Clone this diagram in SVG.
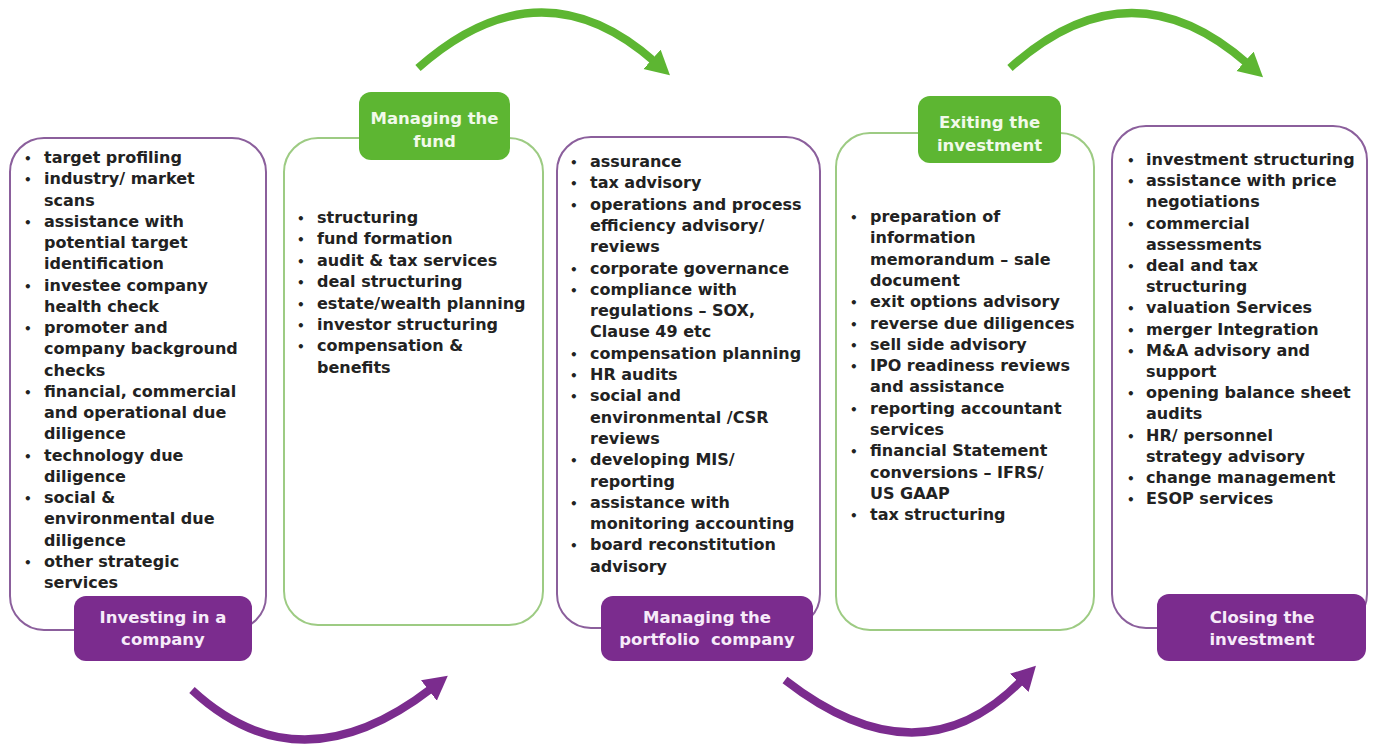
<svg xmlns="http://www.w3.org/2000/svg" width="1376" height="748" viewBox="0 0 1376 748">
<style>
.t{font-family:"DejaVu Sans",sans-serif;font-weight:bold;font-size:16px;fill:#222}
.b{font-family:"DejaVu Sans",sans-serif;font-weight:bold;font-size:12px;fill:#222}
.lp{font-family:"DejaVu Sans",sans-serif;font-weight:bold;font-size:16.5px;fill:#f6ebf9;text-anchor:middle}
.lg{font-family:"DejaVu Sans",sans-serif;font-weight:bold;font-size:16.5px;fill:#f1f9ea;text-anchor:middle}
.bp{fill:#fff;stroke:#8b5f9c;stroke-width:2}
.bg{fill:#fff;stroke:#9dcb83;stroke-width:2}
.rp{fill:#7b2c8e}
.rg{fill:#5db632}
.ag{fill:none;stroke:#5db632;stroke-width:8}
.ap{fill:none;stroke:#7b2c8e;stroke-width:8}
</style>
<defs>
<marker id="mg" markerUnits="userSpaceOnUse" markerWidth="28" markerHeight="28" refX="4" refY="13" orient="auto"><path d="M0,0 L24,13 L0,26 z" fill="#5db632"/></marker>
<marker id="mp" markerUnits="userSpaceOnUse" markerWidth="28" markerHeight="28" refX="4" refY="13" orient="auto"><path d="M0,0 L24,13 L0,26 z" fill="#7b2c8e"/></marker>
</defs>
<rect width="1376" height="748" fill="#fff"/>
<g id="connectors">
<path class="ag" d="M418,68 Q540,-40 655,62" marker-end="url(#mg)"/>
<path class="ag" d="M1010,68 Q1130,-40 1248,64" marker-end="url(#mg)"/>
<path class="ap" d="M192,690 Q300,790 432,688" marker-end="url(#mp)"/>
<path class="ap" d="M785,680 Q920,785 1022,680" marker-end="url(#mp)"/>
</g>
<g id="investing">
<rect class="bp" x="10" y="138" width="256" height="492" rx="34"/>
<g>
<text class="b" x="24" y="163">•</text><text class="t" x="44" y="163">target profiling</text>
<text class="b" x="24" y="184.25">•</text><text class="t" x="44" y="184.25">industry/ market</text>
<text class="t" x="44" y="205.5">scans</text>
<text class="b" x="24" y="226.75">•</text><text class="t" x="44" y="226.75">assistance with</text>
<text class="t" x="44" y="248">potential target</text>
<text class="t" x="44" y="269.25">identification</text>
<text class="b" x="24" y="290.5">•</text><text class="t" x="44" y="290.5">investee company</text>
<text class="t" x="44" y="311.75">health check</text>
<text class="b" x="24" y="333">•</text><text class="t" x="44" y="333">promoter and</text>
<text class="t" x="44" y="354.25">company background</text>
<text class="t" x="44" y="375.5">checks</text>
<text class="b" x="24" y="396.75">•</text><text class="t" x="44" y="396.75">financial, commercial</text>
<text class="t" x="44" y="418">and operational due</text>
<text class="t" x="44" y="439.25">diligence</text>
<text class="b" x="24" y="460.5">•</text><text class="t" x="44" y="460.5">technology due</text>
<text class="t" x="44" y="481.75">diligence</text>
<text class="b" x="24" y="503">•</text><text class="t" x="44" y="503">social &amp;</text>
<text class="t" x="44" y="524.25">environmental due</text>
<text class="t" x="44" y="545.5">diligence</text>
<text class="b" x="24" y="566.75">•</text><text class="t" x="44" y="566.75">other strategic</text>
<text class="t" x="44" y="588">services</text>
</g>
<rect class="rp" x="74" y="596" width="178" height="65" rx="12"/>
<text class="lp" x="163" y="623">Investing in a</text>
<text class="lp" x="163" y="645">company</text>
</g>
<g id="fund">
<rect class="bg" x="284" y="138" width="259" height="487" rx="34"/>
<rect class="rg" x="359" y="92" width="151" height="68" rx="12"/>
<text class="lg" x="434.5" y="124">Managing the</text>
<text class="lg" x="434.5" y="147">fund</text>
<text class="b" x="297" y="223">•</text><text class="t" x="317" y="223">structuring</text>
<text class="b" x="297" y="244.4">•</text><text class="t" x="317" y="244.4">fund formation</text>
<text class="b" x="297" y="265.8">•</text><text class="t" x="317" y="265.8">audit &amp; tax services</text>
<text class="b" x="297" y="287.2">•</text><text class="t" x="317" y="287.2">deal structuring</text>
<text class="b" x="297" y="308.6">•</text><text class="t" x="317" y="308.6">estate/wealth planning</text>
<text class="b" x="297" y="330">•</text><text class="t" x="317" y="330">investor structuring</text>
<text class="b" x="297" y="351.4">•</text><text class="t" x="317" y="351.4">compensation &amp;</text>
<text class="t" x="317" y="372.8">benefits</text>
</g>
<g id="portfolio">
<rect class="bp" x="557" y="137" width="263" height="491" rx="34"/>
<text class="b" x="570" y="167">•</text><text class="t" x="590" y="167">assurance</text>
<text class="b" x="570" y="188.3">•</text><text class="t" x="590" y="188.3">tax advisory</text>
<text class="b" x="570" y="209.6">•</text><text class="t" x="590" y="209.6">operations and process</text>
<text class="t" x="590" y="230.9">efficiency advisory/</text>
<text class="t" x="590" y="252.2">reviews</text>
<text class="b" x="570" y="273.5">•</text><text class="t" x="590" y="273.5">corporate governance</text>
<text class="b" x="570" y="294.8">•</text><text class="t" x="590" y="294.8">compliance with</text>
<text class="t" x="590" y="316.1">regulations – SOX,</text>
<text class="t" x="590" y="337.4">Clause 49 etc</text>
<text class="b" x="570" y="358.7">•</text><text class="t" x="590" y="358.7">compensation planning</text>
<text class="b" x="570" y="380">•</text><text class="t" x="590" y="380">HR audits</text>
<text class="b" x="570" y="401.3">•</text><text class="t" x="590" y="401.3">social and</text>
<text class="t" x="590" y="422.6">environmental /CSR</text>
<text class="t" x="590" y="443.9">reviews</text>
<text class="b" x="570" y="465.2">•</text><text class="t" x="590" y="465.2">developing MIS/</text>
<text class="t" x="590" y="486.5">reporting</text>
<text class="b" x="570" y="507.8">•</text><text class="t" x="590" y="507.8">assistance with</text>
<text class="t" x="590" y="529.1">monitoring accounting</text>
<text class="b" x="570" y="550.4">•</text><text class="t" x="590" y="550.4">board reconstitution</text>
<text class="t" x="590" y="571.7">advisory</text>
<rect class="rp" x="601" y="596" width="212" height="65" rx="12"/>
<text class="lp" x="707" y="623">Managing the</text>
<text class="lp" x="707" y="645" xml:space="preserve">portfolio  company</text>
</g>
<g id="exiting">
<rect class="bg" x="836" y="133" width="258" height="497" rx="34"/>
<rect class="rg" x="918" y="96" width="143" height="67" rx="12"/>
<text class="lg" x="989.5" y="128">Exiting the</text>
<text class="lg" x="989.5" y="151">investment</text>
<text class="b" x="850" y="222">•</text><text class="t" x="870" y="222">preparation of</text>
<text class="t" x="870" y="243.3">information</text>
<text class="t" x="870" y="264.6">memorandum – sale</text>
<text class="t" x="870" y="285.9">document</text>
<text class="b" x="850" y="307.2">•</text><text class="t" x="870" y="307.2">exit options advisory</text>
<text class="b" x="850" y="328.5">•</text><text class="t" x="870" y="328.5">reverse due diligences</text>
<text class="b" x="850" y="349.8">•</text><text class="t" x="870" y="349.8">sell side advisory</text>
<text class="b" x="850" y="371.1">•</text><text class="t" x="870" y="371.1">IPO readiness reviews</text>
<text class="t" x="870" y="392.4">and assistance</text>
<text class="b" x="850" y="413.7">•</text><text class="t" x="870" y="413.7">reporting accountant</text>
<text class="t" x="870" y="435">services</text>
<text class="b" x="850" y="456.3">•</text><text class="t" x="870" y="456.3">financial Statement</text>
<text class="t" x="870" y="477.6">conversions – IFRS/</text>
<text class="t" x="870" y="498.9">US GAAP</text>
<text class="b" x="850" y="520.2">•</text><text class="t" x="870" y="520.2">tax structuring</text>
</g>
<g id="closing">
<rect class="bp" x="1112" y="126" width="255" height="502" rx="34"/>
<text class="b" x="1127" y="165">•</text><text class="t" x="1146" y="165">investment structuring</text>
<text class="b" x="1127" y="186.2">•</text><text class="t" x="1146" y="186.2">assistance with price</text>
<text class="t" x="1146" y="207.4">negotiations</text>
<text class="b" x="1127" y="228.6">•</text><text class="t" x="1146" y="228.6">commercial</text>
<text class="t" x="1146" y="249.8">assessments</text>
<text class="b" x="1127" y="271">•</text><text class="t" x="1146" y="271">deal and tax</text>
<text class="t" x="1146" y="292.2">structuring</text>
<text class="b" x="1127" y="313.4">•</text><text class="t" x="1146" y="313.4">valuation Services</text>
<text class="b" x="1127" y="334.6">•</text><text class="t" x="1146" y="334.6">merger Integration</text>
<text class="b" x="1127" y="355.8">•</text><text class="t" x="1146" y="355.8">M&amp;A advisory and</text>
<text class="t" x="1146" y="377">support</text>
<text class="b" x="1127" y="398.2">•</text><text class="t" x="1146" y="398.2">opening balance sheet</text>
<text class="t" x="1146" y="419.4">audits</text>
<text class="b" x="1127" y="440.6">•</text><text class="t" x="1146" y="440.6">HR/ personnel</text>
<text class="t" x="1146" y="461.8">strategy advisory</text>
<text class="b" x="1127" y="483">•</text><text class="t" x="1146" y="483">change management</text>
<text class="b" x="1127" y="504.2">•</text><text class="t" x="1146" y="504.2">ESOP services</text>
<rect class="rp" x="1157" y="594" width="209" height="67" rx="12"/>
<text class="lp" x="1262" y="623">Closing the</text>
<text class="lp" x="1262" y="645">investment</text>
</g>
</svg>
